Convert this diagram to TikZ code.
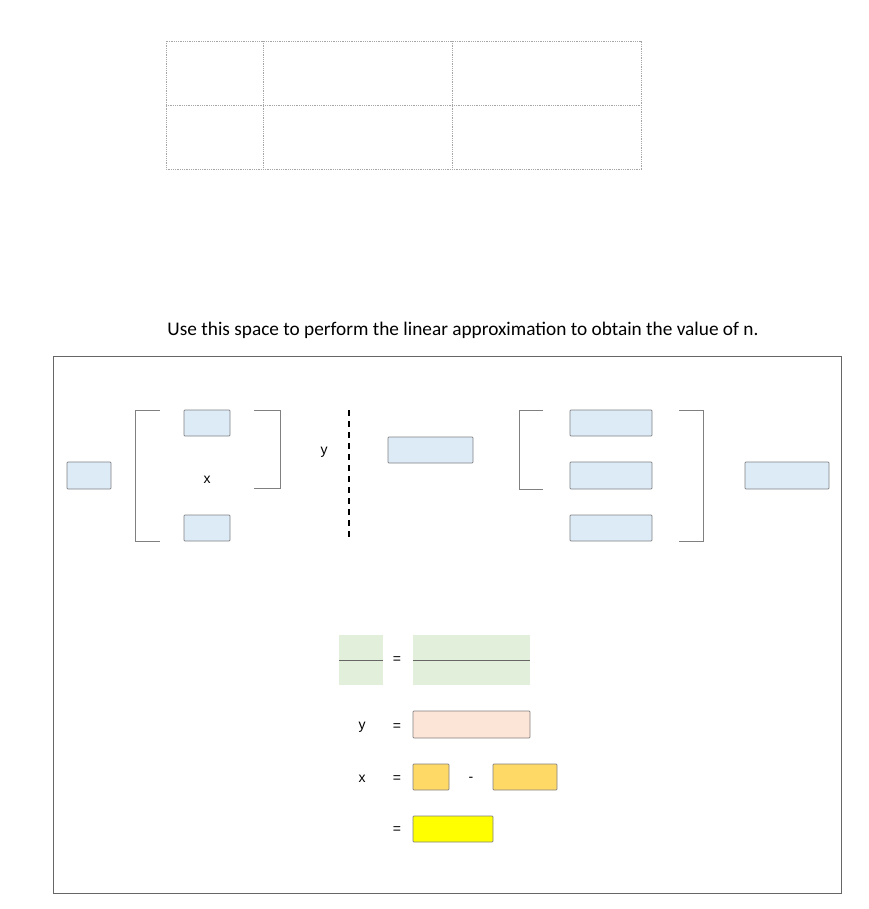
\documentclass[tikz,border=0pt]{standalone}
\usepackage{fontspec}
\setmainfont{Carlito}
\setsansfont{Liberation Sans}
\begin{document}
\begin{tikzpicture}[x=1pt,y=-1pt,
  cell/.style={draw=gray!70,densely dotted,line width=0.8pt},
  brk/.style={draw=gray,line width=0.8pt},
  lbl/.style={font=\fontsize{14}{16}\selectfont\sffamily},
  txt/.style={font=\fontsize{19.3}{22}\selectfont}]
\useasboundingbox (0,0) rectangle (868,909);
\definecolor{lb}{HTML}{DDEBF7}
\tikzset{bbox/.style={draw=gray,fill=lb,line width=0.7pt,rounded corners=0.8pt}}
% table
\draw[cell] (166,41) rectangle (641,169);
\draw[cell] (166,105) -- (641,105);
\draw[cell] (263,41) -- (263,169);
\draw[cell] (452,41) -- (452,169);
\node[txt] (title) at (463,330) {Use this space to perform the linear approximation to obtain the value of n.};
\draw[draw=gray!80!black,line width=0.8pt] (53,356) rectangle (841,893);
\draw[bbox] (67,462) rectangle (111,489);
\draw[bbox] (184,410) rectangle (230,436);
\draw[bbox] (184,515) rectangle (230,541);
\draw[bbox] (388,437) rectangle (473,463);
\draw[bbox] (570,410) rectangle (652,436);
\draw[bbox] (570,462) rectangle (652,489);
\draw[bbox] (570,515) rectangle (652,541);
\draw[bbox] (745,462) rectangle (829,489);
% brackets
\draw[brk] (160,410) -- (135,410) -- (135,541) -- (160,541);
\draw[brk] (254,410) -- (280,410) -- (280,488) -- (254,488);
\draw[brk] (543,410) -- (519,410) -- (519,489) -- (543,489);
\draw[brk] (679,410) -- (703,410) -- (703,541) -- (679,541);
\node[lbl] (x1) at (207,480) {x};
\node[lbl] (y1) at (324,452) {y};
\draw[line width=1.1pt,dash pattern=on 6pt off 5pt] (349,410) -- (349,541);
% green
\definecolor{gr}{HTML}{E2EFDA}
\fill[gr] (339,635) rectangle (383,685);
\fill[gr] (413,635) rectangle (530,685);
\draw[gray!80!black,line width=0.8pt] (339,660) -- (383,660);
\draw[gray!80!black,line width=0.8pt] (413,660) -- (530,660);
\node[lbl] (e1) at (397,660) {=};
\node[lbl] (y2) at (362,727) {y};
\node[lbl] (e2) at (397,727) {=};
\definecolor{pk}{HTML}{FCE4D6}
\draw[bbox,fill=pk] (413,711) rectangle (530,738);
\node[lbl] (x2) at (362,779) {x};
\node[lbl] (e3) at (397,779) {=};
\definecolor{og}{HTML}{FFD966}
\draw[bbox,fill=og] (413,764) rectangle (449,790);
\node[lbl] (m) at (471,779) {-};
\draw[bbox,fill=og] (493,764) rectangle (557,790);
\node[lbl] (e4) at (397,830) {=};
\definecolor{yl}{HTML}{FFFF00}
\draw[bbox,fill=yl] (413,816) rectangle (493,842);
\end{tikzpicture}
\end{document}
